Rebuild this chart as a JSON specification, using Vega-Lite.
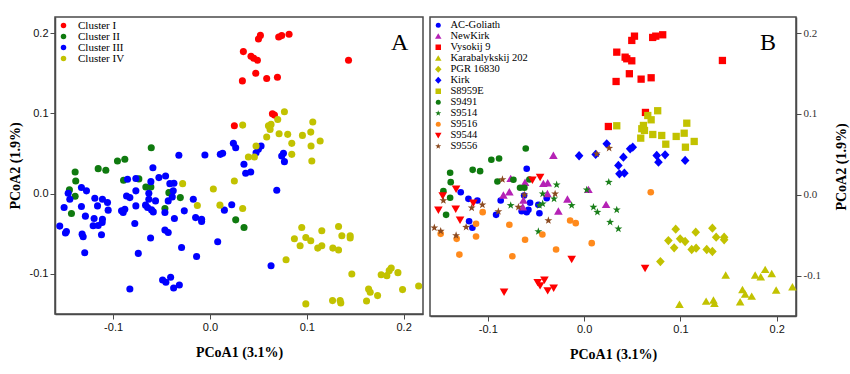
{
  "$schema": "https://vega.github.io/schema/vega-lite/v6.json",
  "padding": {"left": 7, "top": 16, "right": 3, "bottom": 5},
  "spacing": 5,
  "background": "white",
  "config": {
    "view": {"stroke": "#4a4a4a", "strokeWidth": 1.5},
    "axis": {"grid": false, "domainColor": "#4a4a4a", "domainWidth": 1.5, "tickColor": "#4a4a4a", "tickSize": 5, "labelFont": "Liberation Sans", "labelFontSize": 11, "labelColor": "#111", "labelPadding": 2, "titleFont": "Liberation Serif", "titleFontSize": 14, "titleFontWeight": "bold", "titleColor": "#000"},
    "legend": {"title": null, "orient": "top-left", "padding": 0, "labelFont": "Liberation Serif", "labelColor": "#000"}
  },
  "datasets": {
    "A": [
      {"x":0.0501,"y":0.1925,"c":"Cluster I"},{"x":0.0521,"y":0.1971,"c":"Cluster I"},{"x":0.0710,"y":0.1950,"c":"Cluster I"},{"x":0.0741,"y":0.1968,"c":"Cluster I"},{"x":0.0817,"y":0.1984,"c":"Cluster I"},{"x":0.0345,"y":0.1769,"c":"Cluster I"},{"x":0.0424,"y":0.1711,"c":"Cluster I"},{"x":0.0452,"y":0.1686,"c":"Cluster I"},{"x":0.0490,"y":0.1661,"c":"Cluster I"},{"x":0.1431,"y":0.1661,"c":"Cluster I"},{"x":0.0473,"y":0.1499,"c":"Cluster I"},{"x":0.0335,"y":0.1404,"c":"Cluster I"},{"x":0.0586,"y":0.1434,"c":"Cluster I"},{"x":0.0697,"y":0.1450,"c":"Cluster I"},{"x":0.0645,"y":0.0994,"c":"Cluster I"},{"x":0.0666,"y":0.0978,"c":"Cluster I"},{"x":0.0252,"y":0.0845,"c":"Cluster I"},
      {"x":-0.0606,"y":0.0571,"c":"Cluster II"},{"x":-0.0955,"y":0.0406,"c":"Cluster II"},{"x":-0.0879,"y":0.0427,"c":"Cluster II"},{"x":-0.1154,"y":0.0311,"c":"Cluster II"},{"x":-0.1075,"y":0.0291,"c":"Cluster II"},{"x":-0.1392,"y":0.0270,"c":"Cluster II"},{"x":-0.1386,"y":0.0158,"c":"Cluster II"},{"x":-0.0892,"y":0.0166,"c":"Cluster II"},{"x":-0.0734,"y":0.0183,"c":"Cluster II"},{"x":-0.0662,"y":0.0083,"c":"Cluster II"},{"x":-0.0610,"y":0.0083,"c":"Cluster II"},{"x":-0.1451,"y":0.0046,"c":"Cluster II"},{"x":-0.1392,"y":-0.0032,"c":"Cluster II"},{"x":-0.0424,"y":0.0012,"c":"Cluster II"},{"x":-0.0306,"y":-0.0050,"c":"Cluster II"},{"x":-0.0465,"y":-0.0186,"c":"Cluster II"},{"x":-0.1430,"y":-0.0248,"c":"Cluster II"},{"x":0.0266,"y":-0.0327,"c":"Cluster II"},{"x":0.0352,"y":-0.0422,"c":"Cluster II"},
      {"x":-0.0321,"y":0.0477,"c":"Cluster III"},{"x":-0.0052,"y":0.0481,"c":"Cluster III"},{"x":0.0131,"y":0.0502,"c":"Cluster III"},{"x":0.0107,"y":0.0489,"c":"Cluster III"},{"x":0.0242,"y":0.0626,"c":"Cluster III"},{"x":-0.0589,"y":0.0323,"c":"Cluster III"},{"x":-0.0527,"y":0.0199,"c":"Cluster III"},{"x":-0.0458,"y":0.0220,"c":"Cluster III"},{"x":-0.0414,"y":0.0124,"c":"Cluster III"},{"x":-0.0372,"y":0.0129,"c":"Cluster III"},{"x":-0.0851,"y":0.0179,"c":"Cluster III"},{"x":-0.0765,"y":0.0187,"c":"Cluster III"},{"x":-0.0610,"y":0.0149,"c":"Cluster III"},{"x":-0.1327,"y":0.0075,"c":"Cluster III"},{"x":-0.1275,"y":0.0034,"c":"Cluster III"},{"x":-0.1464,"y":0.0005,"c":"Cluster III"},{"x":-0.1447,"y":-0.0070,"c":"Cluster III"},{"x":-0.1189,"y":-0.0057,"c":"Cluster III"},{"x":-0.1110,"y":-0.0070,"c":"Cluster III"},{"x":-0.1161,"y":-0.0153,"c":"Cluster III"},{"x":-0.1058,"y":-0.0112,"c":"Cluster III"},{"x":-0.1051,"y":-0.0206,"c":"Cluster III"},{"x":-0.0861,"y":-0.0029,"c":"Cluster III"},{"x":-0.0827,"y":-0.0050,"c":"Cluster III"},{"x":-0.0765,"y":0.0034,"c":"Cluster III"},{"x":-0.0631,"y":0.0005,"c":"Cluster III"},{"x":-0.0631,"y":-0.0070,"c":"Cluster III"},{"x":-0.0562,"y":-0.0091,"c":"Cluster III"},{"x":-0.0431,"y":-0.0091,"c":"Cluster III"},{"x":-0.0389,"y":-0.0041,"c":"Cluster III"},{"x":-0.0379,"y":0.0034,"c":"Cluster III"},{"x":-0.0172,"y":-0.0070,"c":"Cluster III"},{"x":-0.1506,"y":-0.0174,"c":"Cluster III"},{"x":-0.1327,"y":-0.0161,"c":"Cluster III"},{"x":-0.1286,"y":-0.0281,"c":"Cluster III"},{"x":-0.1196,"y":-0.0311,"c":"Cluster III"},{"x":-0.1110,"y":-0.0319,"c":"Cluster III"},{"x":-0.0913,"y":-0.0215,"c":"Cluster III"},{"x":-0.0879,"y":-0.0194,"c":"Cluster III"},{"x":-0.0896,"y":-0.0236,"c":"Cluster III"},{"x":-0.0765,"y":-0.0153,"c":"Cluster III"},{"x":-0.0665,"y":-0.0144,"c":"Cluster III"},{"x":-0.0644,"y":-0.0174,"c":"Cluster III"},{"x":-0.0603,"y":-0.0203,"c":"Cluster III"},{"x":-0.0585,"y":-0.0228,"c":"Cluster III"},{"x":-0.0465,"y":-0.0236,"c":"Cluster III"},{"x":-0.0367,"y":-0.0311,"c":"Cluster III"},{"x":-0.0265,"y":-0.0215,"c":"Cluster III"},{"x":-0.0148,"y":-0.0299,"c":"Cluster III"},{"x":-0.0086,"y":-0.0319,"c":"Cluster III"},{"x":0.0149,"y":-0.0206,"c":"Cluster III"},{"x":0.0225,"y":-0.0140,"c":"Cluster III"},
      {"x":-0.1551,"y":-0.0405,"c":"Cluster III"},{"x":-0.1482,"y":-0.0472,"c":"Cluster III"},{"x":-0.1492,"y":-0.0492,"c":"Cluster III"},{"x":-0.1206,"y":-0.0401,"c":"Cluster III"},{"x":-0.1154,"y":-0.0397,"c":"Cluster III"},{"x":-0.1113,"y":-0.0360,"c":"Cluster III"},{"x":-0.1120,"y":-0.0513,"c":"Cluster III"},{"x":-0.1320,"y":-0.0505,"c":"Cluster III"},{"x":-0.1309,"y":-0.0538,"c":"Cluster III"},{"x":-0.1293,"y":-0.0737,"c":"Cluster III"},{"x":-0.0776,"y":-0.0373,"c":"Cluster III"},{"x":-0.0740,"y":-0.0745,"c":"Cluster III"},{"x":-0.0613,"y":-0.0554,"c":"Cluster III"},{"x":-0.0465,"y":-0.0455,"c":"Cluster III"},{"x":-0.0431,"y":-0.0484,"c":"Cluster III"},{"x":-0.0293,"y":-0.0671,"c":"Cluster III"},{"x":-0.0086,"y":-0.0348,"c":"Cluster III"},{"x":-0.0138,"y":-0.0783,"c":"Cluster III"},{"x":0.0080,"y":-0.0600,"c":"Cluster III"},{"x":-0.0489,"y":-0.1076,"c":"Cluster III"},{"x":-0.0455,"y":-0.1105,"c":"Cluster III"},{"x":-0.0406,"y":-0.1043,"c":"Cluster III"},{"x":-0.0375,"y":-0.1175,"c":"Cluster III"},{"x":-0.0316,"y":-0.1138,"c":"Cluster III"},{"x":-0.0827,"y":-0.1188,"c":"Cluster III"},
      {"x":0.0266,"y":0.0571,"c":"Cluster III"},{"x":0.0528,"y":0.0593,"c":"Cluster III"},{"x":0.0500,"y":0.0551,"c":"Cluster III"},{"x":0.0476,"y":0.0509,"c":"Cluster III"},{"x":0.0759,"y":0.0502,"c":"Cluster III"},{"x":0.0741,"y":0.0468,"c":"Cluster III"},{"x":0.0769,"y":0.0398,"c":"Cluster III"},{"x":0.0351,"y":0.0365,"c":"Cluster III"},{"x":0.0421,"y":0.0270,"c":"Cluster III"},{"x":0.0369,"y":0.0253,"c":"Cluster III"},{"x":0.0690,"y":0.0042,"c":"Cluster III"},{"x":0.0631,"y":-0.0898,"c":"Cluster III"},
      {"x":-0.0282,"y":0.0124,"c":"Cluster IV"},{"x":0.0035,"y":0.0058,"c":"Cluster IV"},{"x":-0.0130,"y":-0.0149,"c":"Cluster IV"},{"x":0.0103,"y":-0.0144,"c":"Cluster IV"},{"x":0.0769,"y":0.1019,"c":"Cluster IV"},{"x":0.0338,"y":0.0853,"c":"Cluster IV"},{"x":0.0604,"y":0.0845,"c":"Cluster IV"},{"x":0.0631,"y":0.0862,"c":"Cluster IV"},{"x":0.0621,"y":0.0800,"c":"Cluster IV"},{"x":0.0700,"y":0.0924,"c":"Cluster IV"},{"x":0.0586,"y":0.0704,"c":"Cluster IV"},{"x":0.0714,"y":0.0745,"c":"Cluster IV"},{"x":0.0803,"y":0.0738,"c":"Cluster IV"},{"x":0.0955,"y":0.0725,"c":"Cluster IV"},{"x":0.1041,"y":0.0766,"c":"Cluster IV"},{"x":0.1062,"y":0.0891,"c":"Cluster IV"},{"x":0.1138,"y":0.0655,"c":"Cluster IV"},{"x":0.0845,"y":0.0626,"c":"Cluster IV"},{"x":0.1044,"y":0.0593,"c":"Cluster IV"},{"x":0.0845,"y":0.0489,"c":"Cluster IV"},{"x":0.1052,"y":0.0406,"c":"Cluster IV"},{"x":0.0476,"y":0.0593,"c":"Cluster IV"},{"x":0.0397,"y":0.0456,"c":"Cluster IV"},{"x":0.0459,"y":0.0456,"c":"Cluster IV"},{"x":0.0252,"y":0.0158,"c":"Cluster IV"},{"x":0.0338,"y":-0.0186,"c":"Cluster IV"},
      {"x":0.0948,"y":-0.0422,"c":"Cluster IV"},{"x":0.1155,"y":-0.0463,"c":"Cluster IV"},{"x":0.1328,"y":-0.0410,"c":"Cluster IV"},{"x":0.0872,"y":-0.0563,"c":"Cluster IV"},{"x":0.0990,"y":-0.0547,"c":"Cluster IV"},{"x":0.1041,"y":-0.0588,"c":"Cluster IV"},{"x":0.1362,"y":-0.0526,"c":"Cluster IV"},{"x":0.1448,"y":-0.0526,"c":"Cluster IV"},{"x":0.1448,"y":-0.0554,"c":"Cluster IV"},{"x":0.0931,"y":-0.0650,"c":"Cluster IV"},{"x":0.1113,"y":-0.0679,"c":"Cluster IV"},{"x":0.1155,"y":-0.0650,"c":"Cluster IV"},{"x":0.1269,"y":-0.0679,"c":"Cluster IV"},{"x":0.1328,"y":-0.0703,"c":"Cluster IV"},{"x":0.0786,"y":-0.0824,"c":"Cluster IV"},{"x":0.1465,"y":-0.1001,"c":"Cluster IV"},{"x":0.1768,"y":-0.1010,"c":"Cluster IV"},{"x":0.1827,"y":-0.1022,"c":"Cluster IV"},{"x":0.1872,"y":-0.0927,"c":"Cluster IV"},{"x":0.1851,"y":-0.0960,"c":"Cluster IV"},{"x":0.1941,"y":-0.0985,"c":"Cluster IV"},{"x":0.1638,"y":-0.1188,"c":"Cluster IV"},{"x":0.1655,"y":-0.1230,"c":"Cluster IV"},{"x":0.1731,"y":-0.1271,"c":"Cluster IV"},{"x":0.1989,"y":-0.1196,"c":"Cluster IV"},{"x":0.2155,"y":-0.1151,"c":"Cluster IV"},{"x":0.0990,"y":-0.1374,"c":"Cluster IV"},{"x":0.1266,"y":-0.1333,"c":"Cluster IV"},{"x":0.1344,"y":-0.1333,"c":"Cluster IV"},{"x":0.1351,"y":-0.1362,"c":"Cluster IV"},{"x":0.1617,"y":-0.1337,"c":"Cluster IV"}
    ],
    "B": [
      {"x":-0.0596,"y":0.0322,"g":"AC-Goliath"},{"x":-0.1281,"y":0.0032,"g":"AC-Goliath"},{"x":-0.1201,"y":-0.0050,"g":"AC-Goliath"},{"x":-0.1108,"y":-0.0071,"g":"AC-Goliath"},{"x":-0.0866,"y":-0.0071,"g":"AC-Goliath"},{"x":-0.0623,"y":-0.0009,"g":"AC-Goliath"},{"x":-0.0561,"y":-0.0099,"g":"AC-Goliath"},{"x":-0.0475,"y":-0.0124,"g":"AC-Goliath"},{"x":-0.0648,"y":-0.0203,"g":"AC-Goliath"},{"x":-0.0596,"y":-0.0215,"g":"AC-Goliath"},{"x":-0.0578,"y":-0.0186,"g":"AC-Goliath"},{"x":-0.0464,"y":-0.0228,"g":"AC-Goliath"},{"x":-0.1194,"y":-0.0327,"g":"AC-Goliath"},{"x":-0.1160,"y":-0.0408,"g":"AC-Goliath"},{"x":-0.0914,"y":-0.0248,"g":"AC-Goliath"},{"x":-0.0388,"y":-0.0042,"g":"AC-Goliath"},
      {"x":-0.0319,"y":0.0483,"g":"NewKirk"},{"x":-0.0762,"y":0.0198,"g":"NewKirk"},{"x":-0.0423,"y":0.0136,"g":"NewKirk"},{"x":-0.0378,"y":0.0144,"g":"NewKirk"},{"x":-0.0776,"y":0.0032,"g":"NewKirk"},{"x":-0.0838,"y":-0.0009,"g":"NewKirk"},{"x":-0.0630,"y":-0.0071,"g":"NewKirk"},{"x":-0.0613,"y":0.0149,"g":"NewKirk"},{"x":-0.0381,"y":0.0012,"g":"NewKirk"},{"x":-0.0173,"y":-0.0058,"g":"NewKirk"},{"x":-0.0267,"y":-0.0207,"g":"NewKirk"},{"x":0.0228,"y":-0.0124,"g":"NewKirk"},{"x":0.0045,"y":0.0062,"g":"NewKirk"},{"x":-0.0637,"y":-0.0153,"g":"NewKirk"},
      {"x":0.0495,"y":0.1910,"g":"Vysokij 9"},{"x":0.0523,"y":0.1963,"g":"Vysokij 9"},{"x":0.0712,"y":0.1947,"g":"Vysokij 9"},{"x":0.0744,"y":0.1963,"g":"Vysokij 9"},{"x":0.0816,"y":0.1980,"g":"Vysokij 9"},{"x":0.0339,"y":0.1765,"g":"Vysokij 9"},{"x":0.0426,"y":0.1703,"g":"Vysokij 9"},{"x":0.0443,"y":0.1683,"g":"Vysokij 9"},{"x":0.0495,"y":0.1658,"g":"Vysokij 9"},{"x":0.1436,"y":0.1662,"g":"Vysokij 9"},{"x":0.0470,"y":0.1498,"g":"Vysokij 9"},{"x":0.0332,"y":0.1402,"g":"Vysokij 9"},{"x":0.0592,"y":0.1431,"g":"Vysokij 9"},{"x":0.0696,"y":0.1448,"g":"Vysokij 9"},{"x":0.0637,"y":0.1019,"g":"Vysokij 9"},{"x":0.0252,"y":0.0845,"g":"Vysokij 9"},
      {"x":0.1470,"y":-0.0999,"g":"Karabalykskij 202"},{"x":0.1776,"y":-0.0999,"g":"Karabalykskij 202"},{"x":0.1834,"y":-0.1020,"g":"Karabalykskij 202"},{"x":0.1880,"y":-0.0928,"g":"Karabalykskij 202"},{"x":0.1948,"y":-0.0978,"g":"Karabalykskij 202"},{"x":0.1644,"y":-0.1176,"g":"Karabalykskij 202"},{"x":0.1672,"y":-0.1234,"g":"Karabalykskij 202"},{"x":0.1740,"y":-0.1259,"g":"Karabalykskij 202"},{"x":0.1994,"y":-0.1184,"g":"Karabalykskij 202"},{"x":0.2163,"y":-0.1143,"g":"Karabalykskij 202"},{"x":0.0990,"y":-0.1361,"g":"Karabalykskij 202"},{"x":0.1267,"y":-0.1321,"g":"Karabalykskij 202"},{"x":0.1343,"y":-0.1308,"g":"Karabalykskij 202"},{"x":0.1353,"y":-0.1349,"g":"Karabalykskij 202"},{"x":0.1620,"y":-0.1329,"g":"Karabalykskij 202"},
      {"x":0.0951,"y":-0.0426,"g":"PGR 16830"},{"x":0.1159,"y":-0.0463,"g":"PGR 16830"},{"x":0.1332,"y":-0.0413,"g":"PGR 16830"},{"x":0.0875,"y":-0.0566,"g":"PGR 16830"},{"x":0.0997,"y":-0.0545,"g":"PGR 16830"},{"x":0.1049,"y":-0.0578,"g":"PGR 16830"},{"x":0.0935,"y":-0.0656,"g":"PGR 16830"},{"x":0.1117,"y":-0.0677,"g":"PGR 16830"},{"x":0.1163,"y":-0.0661,"g":"PGR 16830"},{"x":0.1273,"y":-0.0677,"g":"PGR 16830"},{"x":0.1332,"y":-0.0702,"g":"PGR 16830"},{"x":0.1371,"y":-0.0525,"g":"PGR 16830"},{"x":0.1454,"y":-0.0525,"g":"PGR 16830"},{"x":0.1454,"y":-0.0557,"g":"PGR 16830"},{"x":0.0792,"y":-0.0826,"g":"PGR 16830"},
      {"x":-0.0052,"y":0.0483,"g":"Kirk"},{"x":0.0120,"y":0.0499,"g":"Kirk"},{"x":0.0235,"y":0.0631,"g":"Kirk"},{"x":0.0505,"y":0.0589,"g":"Kirk"},{"x":0.0478,"y":0.0569,"g":"Kirk"},{"x":0.0408,"y":0.0465,"g":"Kirk"},{"x":0.0754,"y":0.0486,"g":"Kirk"},{"x":0.0841,"y":0.0495,"g":"Kirk"},{"x":0.1049,"y":0.0425,"g":"Kirk"},{"x":0.0356,"y":0.0363,"g":"Kirk"},{"x":0.0367,"y":0.0260,"g":"Kirk"},{"x":0.0418,"y":0.0267,"g":"Kirk"},{"x":0.0772,"y":0.0404,"g":"Kirk"},
      {"x":0.0339,"y":0.0854,"g":"S8959E"},{"x":0.0764,"y":0.1040,"g":"S8959E"},{"x":0.0661,"y":0.0981,"g":"S8959E"},{"x":0.0696,"y":0.0928,"g":"S8959E"},{"x":0.0616,"y":0.0858,"g":"S8959E"},{"x":0.0599,"y":0.0817,"g":"S8959E"},{"x":0.0627,"y":0.0796,"g":"S8959E"},{"x":0.0713,"y":0.0746,"g":"S8959E"},{"x":0.0806,"y":0.0734,"g":"S8959E"},{"x":0.0956,"y":0.0722,"g":"S8959E"},{"x":0.1039,"y":0.0762,"g":"S8959E"},{"x":0.1066,"y":0.0886,"g":"S8959E"},{"x":0.0848,"y":0.0626,"g":"S8959E"},{"x":0.0588,"y":0.0701,"g":"S8959E"},{"x":0.1143,"y":0.0660,"g":"S8959E"},{"x":0.1052,"y":0.0589,"g":"S8959E"},
      {"x":-0.0606,"y":0.0573,"g":"S9491"},{"x":-0.0963,"y":0.0433,"g":"S9491"},{"x":-0.0883,"y":0.0449,"g":"S9491"},{"x":-0.1391,"y":0.0272,"g":"S9491"},{"x":-0.1385,"y":0.0156,"g":"S9491"},{"x":-0.1157,"y":0.0309,"g":"S9491"},{"x":-0.1080,"y":0.0292,"g":"S9491"},{"x":-0.1461,"y":0.0045,"g":"S9491"},{"x":-0.1391,"y":-0.0037,"g":"S9491"},{"x":-0.1433,"y":-0.0248,"g":"S9491"},{"x":-0.0900,"y":0.0165,"g":"S9491"},{"x":-0.0734,"y":0.0186,"g":"S9491"},{"x":-0.0665,"y":0.0087,"g":"S9491"},{"x":-0.0620,"y":0.0087,"g":"S9491"},{"x":-0.0568,"y":0.0189,"g":"S9491"},
      {"x":-0.0285,"y":0.0124,"g":"S9514"},{"x":-0.0430,"y":0.0012,"g":"S9514"},{"x":-0.0312,"y":-0.0050,"g":"S9514"},{"x":-0.0129,"y":-0.0132,"g":"S9514"},{"x":-0.0464,"y":-0.0132,"g":"S9514"},{"x":-0.0430,"y":-0.0111,"g":"S9514"},{"x":-0.0475,"y":-0.0454,"g":"S9514"},{"x":0.0027,"y":0.0062,"g":"S9514"},{"x":0.0256,"y":0.0156,"g":"S9514"},{"x":0.0097,"y":-0.0153,"g":"S9514"},{"x":0.0138,"y":-0.0215,"g":"S9514"},{"x":0.0339,"y":-0.0186,"g":"S9514"},{"x":0.0270,"y":-0.0339,"g":"S9514"},{"x":0.0356,"y":-0.0421,"g":"S9514"},{"x":-0.0762,"y":-0.0132,"g":"S9514"},
      {"x":-0.1053,"y":-0.0215,"g":"S9516"},{"x":-0.1489,"y":-0.0483,"g":"S9516"},{"x":-0.1323,"y":-0.0545,"g":"S9516"},{"x":-0.1122,"y":-0.0516,"g":"S9516"},{"x":-0.1122,"y":-0.0359,"g":"S9516"},{"x":-0.0776,"y":-0.0371,"g":"S9516"},{"x":-0.0613,"y":-0.0557,"g":"S9516"},{"x":-0.0433,"y":-0.0491,"g":"S9516"},{"x":-0.0291,"y":-0.0677,"g":"S9516"},{"x":-0.1295,"y":-0.0740,"g":"S9516"},{"x":-0.0745,"y":-0.0760,"g":"S9516"},{"x":-0.0145,"y":-0.0318,"g":"S9516"},{"x":-0.0087,"y":-0.0351,"g":"S9516"},{"x":0.0079,"y":-0.0599,"g":"S9516"},{"x":0.0692,"y":0.0032,"g":"S9516"},
      {"x":-0.1329,"y":0.0074,"g":"S9544"},{"x":-0.1468,"y":-0.0009,"g":"S9544"},{"x":-0.1150,"y":-0.0099,"g":"S9544"},{"x":-0.1513,"y":-0.0186,"g":"S9544"},{"x":-0.1333,"y":-0.0173,"g":"S9544"},{"x":-0.1288,"y":-0.0309,"g":"S9544"},{"x":-0.0537,"y":0.0186,"g":"S9544"},{"x":-0.0457,"y":0.0218,"g":"S9544"},{"x":-0.0129,"y":-0.0797,"g":"S9544"},{"x":-0.0482,"y":-0.1082,"g":"S9544"},{"x":-0.0457,"y":-0.1122,"g":"S9544"},{"x":-0.0412,"y":-0.1052,"g":"S9544"},{"x":-0.0378,"y":-0.1184,"g":"S9544"},{"x":-0.0316,"y":-0.1151,"g":"S9544"},{"x":-0.0831,"y":-0.1200,"g":"S9544"},{"x":0.0633,"y":-0.0908,"g":"S9544"},
      {"x":-0.0848,"y":0.0189,"g":"S9556"},{"x":-0.1461,"y":-0.0071,"g":"S9556"},{"x":-0.1167,"y":-0.0161,"g":"S9556"},{"x":-0.1056,"y":-0.0124,"g":"S9556"},{"x":-0.0890,"y":-0.0207,"g":"S9556"},{"x":-0.0682,"y":-0.0153,"g":"S9556"},{"x":-0.0301,"y":0.0012,"g":"S9556"},{"x":-0.0371,"y":-0.0318,"g":"S9556"},{"x":-0.1225,"y":-0.0401,"g":"S9556"},{"x":-0.1329,"y":-0.0504,"g":"S9556"},{"x":-0.1489,"y":-0.0450,"g":"S9556"},{"x":-0.1555,"y":-0.0408,"g":"S9556"},{"x":-0.0620,"y":0.0000,"g":"S9556"},{"x":0.0131,"y":0.0507,"g":"S9556"},{"x":0.0260,"y":0.0577,"g":"S9556"}
    ]
  },
  "hconcat": [
    {
      "width": 368,
      "height": 297,
      "layer": [
        {
          "data": {"name": "A"},
          "mark": {"type": "point", "filled": true, "opacity": 1, "size": 50, "shape": "circle"},
          "encoding": {
            "x": {"field": "x", "type": "quantitative", "scale": {"domain": [-0.16, 0.22], "nice": false, "zero": false},
                  "axis": {"values": [-0.1, 0, 0.1, 0.2], "labelExpr": "datum.value < 0 ? '-' + format(-datum.value, '.1f') : format(datum.value, '.1f')", "title": "PCoA1 (3.1%)", "titlePadding": 13, "minExtent": 18, "maxExtent": 18}},
            "y": {"field": "y", "type": "quantitative", "scale": {"domain": [-0.15, 0.22], "nice": false, "zero": false},
                  "axis": {"values": [-0.1, 0, 0.1, 0.2], "labelExpr": "datum.value < 0 ? '-' + format(-datum.value, '.1f') : format(datum.value, '.1f')", "title": "PCoA2 (1.9%)", "titlePadding": 11, "minExtent": 22, "maxExtent": 22}},
            "color": {"field": "c", "type": "nominal",
                      "scale": {"domain": ["Cluster I", "Cluster II", "Cluster III", "Cluster IV"], "range": ["#ff0000", "#0f7a0f", "#0000ff", "#c2c200"]},
                      "legend": {"orient": "top-left", "offset": 3, "labelFontSize": 11, "symbolSize": 30, "symbolType": "circle", "labelOffset": 9, "rowPadding": -1.5}}
          }
        },
        {
          "data": {"values": [{"x": 0.196, "y": 0.187, "t": "A"}]},
          "mark": {"type": "text", "font": "Liberation Serif", "fontSize": 24, "color": "#000"},
          "encoding": {"x": {"field": "x", "type": "quantitative"}, "y": {"field": "y", "type": "quantitative"}, "text": {"field": "t"}}
        }
      ]
    },
    {
      "width": 366,
      "height": 299,
      "layer": [
        {
          "data": {"name": "B"},
          "mark": {"type": "point", "filled": true, "opacity": 1, "size": 44},
          "encoding": {
            "x": {"field": "x", "type": "quantitative", "scale": {"domain": [-0.16, 0.22], "nice": false, "zero": false},
                  "axis": {"values": [-0.1, 0, 0.1, 0.2], "labelExpr": "datum.value < 0 ? '-' + format(-datum.value, '.1f') : format(datum.value, '.1f')", "title": "PCoA1 (3.1%)", "titlePadding": 13, "minExtent": 18, "maxExtent": 18}},
            "y": {"field": "y", "type": "quantitative", "scale": {"domain": [-0.15, 0.22], "nice": false, "zero": false},
                  "axis": {"orient": "right", "values": [-0.1, 0, 0.1, 0.2], "labelExpr": "datum.value < 0 ? '-' + format(-datum.value, '.1f') : format(datum.value, '.1f')", "labelFont": "Liberation Serif", "labelColor": "#333", "title": "PCoA2 (1.9%)", "titleAngle": 270, "titleBaseline": "top", "titlePadding": 12, "minExtent": 26, "maxExtent": 26}},
            "color": {"field": "g", "type": "nominal",
                      "scale": {"domain": ["AC-Goliath", "NewKirk", "Vysokij 9", "Karabalykskij 202", "PGR 16830", "Kirk", "S8959E", "S9491", "S9514", "S9516", "S9544", "S9556"],
                                "range": ["#0000ff", "#b522b5", "#ff0000", "#c2c200", "#c2c200", "#0000ff", "#c2c200", "#0f7a0f", "#1a7f1a", "#ff8a1c", "#ff0000", "#8b4a20"]},
                      "legend": {"orient": "top-left", "offset": 3, "labelFontSize": 10.5, "symbolSize": 25, "labelOffset": 7, "rowPadding": -0.6}},
            "shape": {"field": "g", "type": "nominal",
                      "scale": {"domain": ["AC-Goliath", "NewKirk", "Vysokij 9", "Karabalykskij 202", "PGR 16830", "Kirk", "S8959E", "S9491", "S9514", "S9516", "S9544", "S9556"],
                                "range": ["circle", "M0,-1.25L1.3,1L-1.3,1Z", "M-1.1,-1.1L1.1,-1.1L1.1,1.1L-1.1,1.1Z", "M0,-1.25L1.3,1L-1.3,1Z", "M0,-1.4L1.3,0L0,1.4L-1.3,0Z", "M0,-1.4L1.3,0L0,1.4L-1.3,0Z", "M-1.1,-1.1L1.1,-1.1L1.1,1.1L-1.1,1.1Z", "circle", "M0,-1.25L0.294,-0.405L1.189,-0.386L0.476,0.155L0.735,1.011L0,0.5L-0.735,1.011L-0.476,0.155L-1.189,-0.386L-0.294,-0.405Z", "circle", "M0,1.25L1.3,-1L-1.3,-1Z", "M0,-1.25L0.294,-0.405L1.189,-0.386L0.476,0.155L0.735,1.011L0,0.5L-0.735,1.011L-0.476,0.155L-1.189,-0.386L-0.294,-0.405Z"]},
                      "legend": {"orient": "top-left", "offset": 3, "labelFontSize": 10.5, "symbolSize": 25, "labelOffset": 7, "rowPadding": -0.6}}
          }
        },
        {
          "data": {"values": [{"x": 0.191, "y": 0.188, "t": "B"}]},
          "mark": {"type": "text", "font": "Liberation Serif", "fontSize": 24, "color": "#000"},
          "encoding": {"x": {"field": "x", "type": "quantitative"}, "y": {"field": "y", "type": "quantitative"}, "text": {"field": "t"}}
        }
      ]
    }
  ],
  "resolve": {"scale": {"x": "independent", "y": "independent", "color": "independent", "shape": "independent"}, "legend": {"color": "independent", "shape": "independent"}}
}
